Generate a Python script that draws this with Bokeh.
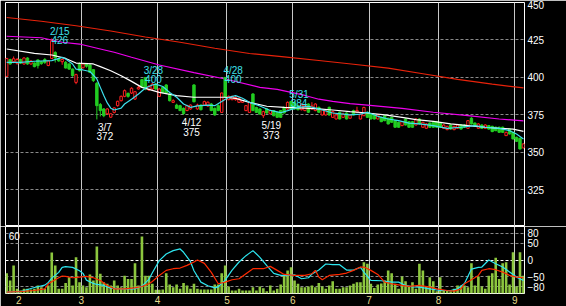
from bokeh.plotting import figure
from bokeh.models import ColumnDataSource, Range1d, FixedTicker, Grid
from bokeh.layouts import column
from bokeh.embed import file_html
from bokeh.resources import INLINE
from bokeh.core.properties import value

# ---------------- data ----------------
opens = [400.7, 411.9, 410.5, 409.5, 412.0, 409.0, 413.0, 409.0, 409.7, 411.7,
         410.5, 412.0, 408.0, 412.7, 416.7, 412.5, 410.5, 410.1, 409.0, 405.6,
         396.7, 409.0, 406.5, 409.0, 408.3, 405.2, 396.1, 381.9, 379.0, 375.8,
         373.5, 376.7, 381.2, 384.5, 387.4, 389.4, 389.6, 385.6, 392.3, 398.5,
         400.0, 391.7, 392.3, 395.6, 387.4, 393.4, 395.0, 389.0, 383.4, 381.6,
         381.2, 379.4, 377.9, 379.0, 395.0, 379.0, 381.6, 381.6, 381.0, 382.3,
         379.4, 381.2, 376.7, 400.0, 385.2, 385.2, 385.2, 383.4, 383.4, 377.9,
         376.7, 389.0, 380.0, 379.0, 374.5, 379.0, 375.8, 377.9, 376.7, 377.9,
         380.1, 379.0, 384.0, 383.4, 381.2, 378.5, 377.9, 382.3, 379.0, 377.9,
         380.1, 375.0, 375.0, 380.1, 373.4, 372.3, 376.8, 373.4, 376.3, 372.8,
         377.9, 376.8, 372.3, 374.5, 376.8, 375.6, 375.0, 372.3, 373.4, 374.5,
         372.8, 373.4, 371.2, 370.1, 367.9, 372.3, 370.5, 370.5, 368.3, 372.3,
         366.8, 366.1, 369.6, 370.1, 370.5, 369.6, 366.1, 365.2, 368.3, 365.2,
         366.1, 368.3, 368.3, 366.1, 372.8, 369.6, 366.1, 368.3, 366.1, 367.9,
         367.4, 366.8, 366.8, 366.8, 361.2, 365.6, 363.4, 360.1, 359.4, 353.0]
highs = [413.0, 412.5, 414.0, 413.0, 412.5, 413.5, 413.5, 411.5, 410.0, 412.0,
         411.0, 413.0, 411.5, 426.0, 417.5, 413.0, 412.5, 411.0, 409.5, 406.0,
         402.5, 410.0, 409.5, 409.5, 409.0, 405.5, 397.0, 383.0, 379.5, 379.5,
         376.0, 380.0, 384.5, 388.0, 392.0, 390.0, 393.5, 391.0, 395.0, 399.0,
         400.0, 395.0, 396.5, 396.0, 392.8, 394.0, 395.5, 389.5, 385.5, 382.5,
         381.8, 380.0, 381.8, 382.0, 395.5, 382.5, 382.0, 384.5, 384.0, 383.0,
         380.0, 382.0, 390.0, 400.0, 388.0, 387.9, 387.5, 386.8, 385.0, 381.5,
         384.0, 389.5, 380.5, 379.5, 377.8, 379.5, 378.5, 378.3, 377.2, 378.3,
         380.5, 384.0, 384.0, 384.0, 381.8, 383.0, 382.0, 382.8, 383.5, 382.8,
         380.5, 379.0, 378.5, 380.5, 377.8, 375.5, 377.2, 376.5, 376.8, 375.5,
         378.5, 380.5, 376.0, 380.5, 377.2, 376.0, 375.5, 375.5, 373.8, 375.0,
         373.2, 373.8, 371.6, 370.5, 371.0, 372.8, 371.0, 371.0, 372.8, 372.8,
         370.5, 369.5, 370.0, 370.5, 371.0, 370.0, 368.8, 367.8, 368.8, 367.8,
         369.0, 368.8, 368.8, 371.6, 373.5, 370.0, 369.5, 368.8, 368.8, 368.3,
         367.8, 367.2, 367.2, 367.2, 363.9, 366.0, 363.8, 360.5, 359.8, 356.0]
lows = [400.5, 408.5, 409.5, 408.5, 409.0, 408.5, 408.5, 408.5, 406.8, 406.0,
        408.5, 409.0, 407.5, 412.5, 410.0, 410.5, 408.5, 406.0, 405.0, 400.5,
        395.5, 404.0, 406.0, 406.5, 403.0, 397.0, 372.0, 374.0, 373.5, 375.0,
        373.0, 376.0, 380.5, 384.0, 386.8, 386.5, 389.0, 385.0, 392.0, 393.0,
        391.5, 391.0, 391.5, 391.8, 387.0, 389.5, 389.0, 384.0, 383.0, 379.0,
        377.5, 375.0, 377.5, 378.5, 383.4, 378.5, 378.0, 381.0, 380.5, 377.5,
        374.5, 377.5, 376.3, 386.5, 384.8, 384.8, 384.5, 383.0, 383.0, 377.5,
        376.3, 377.5, 376.3, 375.2, 373.0, 375.8, 375.5, 374.0, 373.2, 373.2,
        376.0, 378.5, 378.5, 378.5, 378.0, 378.0, 377.5, 376.3, 378.5, 377.5,
        376.3, 374.5, 374.5, 374.5, 373.0, 372.0, 372.0, 373.0, 372.0, 372.5,
        374.8, 376.3, 372.0, 374.2, 373.0, 372.0, 372.0, 372.0, 370.2, 370.8,
        368.7, 369.8, 366.5, 366.5, 367.5, 368.0, 366.5, 366.5, 368.0, 368.7,
        366.5, 365.8, 366.5, 366.5, 366.5, 366.5, 365.8, 364.8, 365.2, 364.8,
        365.8, 365.2, 366.5, 365.8, 368.7, 367.0, 365.8, 365.8, 365.8, 365.2,
        363.5, 364.2, 363.0, 363.0, 361.0, 362.0, 358.7, 357.0, 352.0, 352.8]
closes = [412.7, 409.0, 412.5, 412.0, 409.5, 413.0, 409.0, 411.0, 407.2, 407.9,
          409.2, 410.0, 411.0, 424.5, 413.0, 411.0, 412.0, 406.3, 405.6, 401.2,
          401.9, 404.5, 409.0, 407.5, 403.4, 397.9, 381.2, 377.9, 374.5, 379.0,
          375.8, 379.7, 384.1, 387.4, 391.2, 387.4, 392.8, 390.5, 393.4, 393.4,
          392.3, 393.9, 395.6, 392.3, 392.3, 390.1, 389.6, 384.5, 384.5, 379.4,
          377.9, 376.0, 381.2, 381.6, 383.8, 381.6, 378.5, 383.9, 383.5, 377.9,
          375.0, 377.9, 389.6, 386.9, 387.4, 387.4, 386.8, 386.0, 384.5, 381.2,
          383.4, 377.9, 376.7, 375.6, 377.2, 376.3, 377.9, 374.5, 373.4, 373.4,
          376.3, 383.4, 379.0, 379.0, 378.5, 381.6, 381.6, 376.8, 381.0, 382.3,
          376.8, 378.5, 377.9, 375.0, 377.2, 375.0, 372.3, 375.6, 372.3, 375.0,
          375.0, 378.0, 375.6, 380.0, 373.4, 372.3, 372.3, 375.0, 370.5, 371.2,
          369.0, 370.1, 366.8, 366.8, 370.5, 368.3, 366.8, 366.8, 372.3, 369.0,
          370.1, 369.0, 366.8, 366.8, 366.8, 366.8, 368.3, 367.4, 365.6, 367.4,
          368.3, 365.6, 366.8, 371.2, 369.0, 367.4, 369.0, 366.1, 368.3, 365.6,
          363.9, 364.5, 363.4, 363.4, 363.4, 362.3, 359.0, 357.4, 352.3, 355.7]
volumes = [18.2, 11.6, 25.0, 4.2, 2.7, 4.2, 4.2, 3.6, 4.2, 7.2,
           5.7, 4.2, 7.2, 36.7, 25.0, 4.2, 4.2, 9.3, 14.6, 7.2,
           32.5, 10.1, 7.2, 5.7, 17.0, 11.6, 42.0, 17.6, 10.1, 8.7,
           7.2, 11.6, 7.2, 5.7, 16.0, 13.0, 13.0, 27.0, 7.2, 51.0,
           16.0, 16.0, 8.7, 3.3, 3.3, 3.6, 18.2, 8.0, 5.7, 8.0,
           4.2, 9.3, 7.2, 4.2, 8.7, 4.2, 3.6, 3.6, 3.6, 3.6,
           8.0, 8.0, 18.2, 25.0, 6.3, 2.7, 2.7, 4.2, 2.7, 2.7,
           2.7, 5.7, 2.7, 6.3, 4.8, 2.1, 7.2, 2.7, 4.2, 8.0,
           16.0, 20.6, 23.6, 11.6, 8.7, 5.7, 5.7, 6.3, 7.2, 5.7,
           9.3, 6.3, 4.2, 7.2, 11.0, 4.2, 4.2, 5.7, 5.7, 7.2,
           8.7, 10.1, 10.1, 28.0, 26.6, 8.7, 5.0, 8.0, 9.0, 11.6,
           20.6, 18.2, 8.7, 4.2, 15.2, 11.0, 6.3, 10.1, 4.2, 26.6,
           20.6, 6.3, 14.6, 11.0, 2.0, 14.6, 2.7, 2.7, 2.0, 4.2,
           7.2, 7.2, 7.2, 5.7, 27.0, 7.2, 15.2, 6.3, 4.2, 16.0,
           18.2, 32.0, 13.0, 27.0, 28.0, 8.0, 37.0, 6.3, 37.0, 16.0]

# moving averages (day index, price)
ma_short_x = [0, 4, 8, 13, 16, 17, 19, 20, 22, 24, 26, 27, 28, 29, 30, 31, 33, 34, 36, 38,
              40, 42, 43, 45, 47, 49, 51, 53, 55, 58, 60, 62, 64, 66, 68, 70, 73, 76, 79, 81,
              84, 87, 90, 94, 99, 102, 104, 107, 110, 113, 116, 119, 123, 127, 131, 135, 138,
              142, 145, 147, 149]
ma_short_y = [410.1, 410.1, 410.8, 411.2, 413.4, 412.3, 409.0, 405.6, 405.0, 404.0, 399.0,
              393.4, 388.0, 383.0, 379.5, 378.3, 379.6, 382.3, 385.5, 389.0, 393.0, 395.0,
              395.6, 394.0, 390.0, 386.8, 382.3, 380.1, 381.0, 381.6, 381.2, 383.9, 386.8,
              387.9, 386.1, 383.4, 381.0, 378.0, 376.5, 377.9, 380.1, 380.8, 379.0, 376.3,
              375.0, 375.6, 376.8, 374.1, 372.3, 371.2, 369.6, 369.0, 367.9, 366.1, 366.8,
              367.9, 366.8, 366.1, 364.5, 362.3, 359.0]
ma_mid_x = [0, 8, 13, 17, 20, 25, 27, 30, 33, 36, 39, 44, 49, 54, 58, 63, 66, 70, 75, 80,
            86, 90, 94, 99, 104, 109, 114, 118, 123, 128, 133, 138, 142, 146, 149]
ma_mid_y = [419.0, 416.1, 415.0, 412.7, 409.6, 409.0, 407.2, 404.5, 401.2, 397.4, 393.4,
            390.1, 387.9, 386.8, 386.8, 386.8, 386.1, 383.4, 380.8, 380.1, 379.6, 379.0,
            378.3, 377.2, 376.3, 375.0, 373.4, 371.9, 370.7, 369.0, 367.9, 366.8, 366.1,
            365.6, 364.0]
ma_long_x = [0, 10, 16, 21, 27, 31, 36, 44, 54, 63, 73, 78, 86, 90, 94, 99, 104, 114,
             123, 133, 142, 149]
ma_long_y = [427.5, 426.5, 423.5, 422.3, 419.0, 416.8, 413.5, 408.3, 403.2, 399.0, 393.4,
             392.0, 388.0, 385.5, 384.1, 382.6, 381.6, 379.4, 376.8, 374.5, 372.3, 371.0]
ma_xlong_x = [0, 10, 20, 30, 40, 50, 60, 70, 80, 90, 100, 110, 120, 130, 140, 149]
ma_xlong_y = [440.0, 437.5, 434.5, 431.0, 427.0, 423.5, 419.5, 416.0, 413.7, 411.3, 408.8,
              406.2, 402.5, 398.7, 395.6, 393.0]

# oscillators
osc_fast_x = [0, 4, 8, 11, 12, 13, 15, 16, 17, 19, 21, 22, 23, 25, 26, 28, 30, 33, 37, 39,
              41, 42, 44, 46, 48, 50, 51, 53, 54, 56, 58, 60, 61, 63, 65, 67, 69, 71, 73, 75,
              77, 79, 81, 83, 85, 87, 88, 90, 92, 94, 96, 98, 100, 102, 103, 105, 108, 111,
              113, 115, 117, 119, 122, 125, 128, 130, 132, 134, 136, 137, 139, 141, 143, 145,
              147, 149]
osc_fast_y = [-96, -94, -82, -75, -67, -54, -37, -22, -20, -22, -32, -40, -60, -70, -73, -76,
              -84, -86, -86, -78, -58, -38, -2, 18, 28, 33, 23, -5, -32, -66, -77, -83, -80,
              -60, -30, -6, 13, 28, 8, -17, -40, -46, -46, -44, -56, -53, -42, -30, -12, -14,
              -14, -30, -30, -22, -36, -61, -62, -66, -66, -76, -80, -81, -86, -91, -91, -86,
              -70, -27, -22, -21, 0, -11, -21, -36, -51, -61]
osc_slow_x = [0, 4, 8, 11, 12, 15, 16, 17, 19, 21, 23, 25, 27, 29, 31, 34, 37, 39, 41, 42,
              44, 46, 48, 50, 52, 54, 55, 57, 59, 61, 63, 65, 67, 69, 71, 74, 76, 78, 80, 83,
              86, 88, 89, 90, 91, 93, 96, 98, 100, 102, 103, 105, 107, 109, 111, 114, 116, 119,
              122, 124, 127, 129, 131, 132, 134, 136, 137, 139, 141, 143, 145, 147, 149]
osc_slow_y = [-96, -94, -91, -86, -71, -53, -48, -49, -53, -51, -49, -53, -61, -76, -86, -86,
              -83, -79, -71, -64, -46, -31, -26, -24, -16, -6, 0, -10, -37, -71, -66, -59, -56,
              -41, -26, -26, -19, -31, -43, -46, -46, -41, -31, -51, -59, -46, -43, -39, -31,
              -21, -21, -31, -43, -66, -71, -76, -79, -76, -81, -86, -91, -93, -86, -71, -59,
              -46, -31, -26, -29, -36, -46, -51, -53]

# calendar and annotations
month_starts = [4, 22, 44, 64, 83, 105, 125, 147]
month_labels = ["2", "3", "4", "5", "6", "7", "8", "9"]
price_ticks = [325, 350, 375, 400, 425, 450]
price_grid = [325, 350, 375, 400, 425]
osc_ticks = [80, 50, 0, -50, -80]
osc_grid = [80, 50, -50, -80]
osc_zero = [0]
vol_max = 60
vol_label = "60"
mark_idx = [13, 26, 40, 51, 63, 74, 82]
mark_date = ["2/15", "3/7", "3/28", "4/12", "4/28", "5/19", "5/31"]
mark_value = [426, 372, 400, 375, 400, 373, 384]
mark_kind = ["high", "low", "high", "low", "high", "low", "high"]

# ---------------- styles ----------------
BG = "black"
UP = "#ff2020"
DOWN = "#22cc22"
VOLC = "#8cc63e"
CYAN = "#3ee0ee"
FONT = "Liberation Sans"
GRID = "#8a8a8a"
VGRID = "#c8c8c8"
LABEL_Y = "#e8dc8c"

n = len(opens)
idx = list(range(n))
boundaries = [s - 0.5 for s in month_starts]
x_range = Range1d(-0.34, 149.3)

# ---------------- price panel ----------------
p = figure(frame_width=519, frame_height=224, x_range=x_range, y_range=Range1d(300.6, 450.0),
           output_backend="svg", toolbar_location=None, x_axis_location=None,
           y_axis_location="right", min_border_left=5, min_border_right=42,
           min_border_top=2, min_border_bottom=0, background_fill_color=BG,
           border_fill_color=BG, outline_line_color="white", outline_line_width=1)
p.xgrid.ticker = FixedTicker(ticks=boundaries)
p.xgrid.grid_line_color = VGRID
p.ygrid.ticker = FixedTicker(ticks=price_grid)
p.ygrid.grid_line_color = GRID
p.ygrid.grid_line_dash = "3 2"
ax = p.yaxis[0]
ax.ticker = FixedTicker(ticks=price_ticks)
ax.axis_line_color = None
ax.major_tick_line_color = None
ax.minor_tick_line_color = None
ax.major_tick_out = 0
ax.major_tick_in = 0
ax.major_label_standoff = 3
ax.major_label_text_color = "white"
ax.major_label_text_font = FONT
ax.major_label_text_font_size = "10px"
ax.major_label_text_baseline = "hanging"

src = ColumnDataSource(dict(
    x=idx, h=highs, l=lows,
    top=[max(o, c) for o, c in zip(opens, closes)],
    bottom=[min(o, c) for o, c in zip(opens, closes)],
    color=[UP if c >= o else DOWN for o, c in zip(opens, closes)],
    fill=[BG if c >= o else DOWN for o, c in zip(opens, closes)],
))
p.line(ma_xlong_x, ma_xlong_y, line_color="#e8220a", line_width=1.2)
p.line(ma_long_x, ma_long_y, line_color="#ee00ee", line_width=1.2)
p.segment(x0="x", y0="l", x1="x", y1="h", line_color="color", line_width=1, source=src)
p.vbar(x="x", top="top", bottom="bottom", width=0.7, fill_color="fill",
       line_color="color", line_width=1, source=src)
p.line(ma_mid_x, ma_mid_y, line_color="white", line_width=1.2)
p.line(ma_short_x, ma_short_y, line_color=CYAN, line_width=1.2)

hi = [k for k in range(len(mark_kind)) if mark_kind[k] == "high"]
lo = [k for k in range(len(mark_kind)) if mark_kind[k] == "low"]
src_hi = ColumnDataSource(dict(x=[mark_idx[k] for k in hi], y=[mark_value[k] for k in hi],
                               d=[mark_date[k] for k in hi], v=[str(mark_value[k]) for k in hi]))
src_lo = ColumnDataSource(dict(x=[mark_idx[k] for k in lo], y=[mark_value[k] for k in lo],
                               d=[mark_date[k] for k in lo], v=[str(mark_value[k]) for k in lo]))
common = dict(x_offset=8, text_align="center", text_baseline="alphabetic",
              text_font=value(FONT), text_font_size="10px")
p.text(x="x", y="y", text="v", source=src_hi, y_offset=2, text_color=CYAN, **common)
p.text(x="x", y="y", text="d", source=src_hi, y_offset=-7, text_color=CYAN, **common)
p.text(x="x", y="y", text="d", source=src_lo, y_offset=8, text_color="white", **common)
p.text(x="x", y="y", text="v", source=src_lo, y_offset=17, text_color="white", **common)

# ---------------- volume / oscillator panel ----------------
q = figure(frame_width=519, frame_height=67, x_range=x_range, y_range=Range1d(-100, 100),
           output_backend="svg", toolbar_location=None, y_axis_location="right",
           min_border_left=5, min_border_right=42, min_border_top=0, min_border_bottom=13,
           background_fill_color=BG, border_fill_color=BG, outline_line_color="white",
           outline_line_width=1)
q.extra_y_ranges = {"vol": Range1d(0, vol_max)}
q.xgrid.ticker = FixedTicker(ticks=boundaries)
q.xgrid.grid_line_color = VGRID
q.ygrid.ticker = FixedTicker(ticks=osc_grid)
q.ygrid.grid_line_color = GRID
q.ygrid.grid_line_dash = "3 2"
q.add_layout(Grid(dimension=1, ticker=FixedTicker(ticks=osc_zero),
                  grid_line_color="white", grid_line_dash="3 2"))
qa = q.yaxis[0]
qa.ticker = FixedTicker(ticks=osc_ticks)
qa.axis_line_color = None
qa.major_tick_line_color = None
qa.minor_tick_line_color = None
qa.major_tick_out = 0
qa.major_tick_in = 0
qa.major_label_standoff = 3
qa.major_label_text_color = "white"
qa.major_label_text_font = FONT
qa.major_label_text_font_size = "10px"
xa = q.xaxis[0]
xa.ticker = FixedTicker(ticks=boundaries)
xa.major_label_overrides = {b: lab for b, lab in zip(boundaries, month_labels)}
xa.axis_line_color = None
xa.major_tick_line_color = None
xa.minor_tick_line_color = None
xa.major_tick_out = 0
xa.major_tick_in = 0
xa.major_label_standoff = 2
xa.major_label_text_color = LABEL_Y
xa.major_label_text_font = FONT
xa.major_label_text_font_size = "10px"

q.vbar(x=idx, top=volumes, bottom=0, width=0.75, y_range_name="vol",
       fill_color=VOLC, line_color=None)
q.line(osc_fast_x, osc_fast_y, line_color="#2ee6f0", line_width=1.2)
q.line(osc_slow_x, osc_slow_y, line_color="#ff2a00", line_width=1.2)
q.text(x=[idx[0]], y=[vol_max], text=[vol_label], y_range_name="vol", x_offset=2,
       y_offset=9, text_align="left", text_baseline="alphabetic", text_color="white",
       text_font=value(FONT), text_font_size="10px")

layout = column(p, q, spacing=0)
open("out.html", "w").write(file_html(layout, INLINE))
